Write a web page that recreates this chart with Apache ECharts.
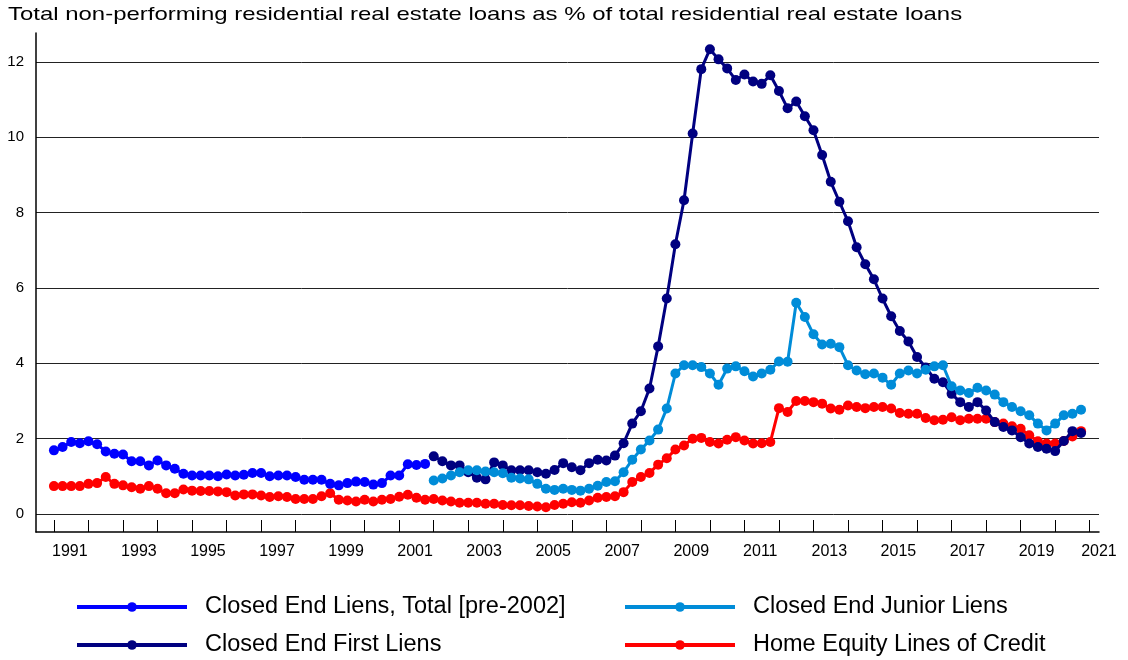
<!DOCTYPE html>
<html><head><meta charset="utf-8">
<script src="https://cdn.jsdelivr.net/npm/echarts@6/dist/echarts.min.js"></script>
<style>html,body{margin:0;padding:0;background:#fff}#c{width:1128px;height:660px}</style>
</head><body><div id="c"></div>
<script>
const titleText = 'Total non-performing residential real estate loans as % of total residential real estate loans';
const nameTotal = 'Closed End Liens, Total [pre-2002]';
const nameJunior = 'Closed End Junior Liens';
const nameFirst = 'Closed End First Liens';
const nameHeloc = 'Home Equity Lines of Credit';

// quarterly values, first quarter of start year onward
const totalStartYear = 1991;
const totalValues = [
  1.69, 1.78, 1.91, 1.88,
  1.93, 1.85, 1.66, 1.60,
  1.58, 1.40, 1.40, 1.29,
  1.42, 1.29, 1.20, 1.07,
  1.02, 1.02, 1.02, 1.00,
  1.05, 1.02, 1.04, 1.09,
  1.09, 1.00, 1.02, 1.02,
  0.98, 0.91, 0.91, 0.91,
  0.80, 0.76, 0.82, 0.86,
  0.85, 0.78, 0.82, 1.02,
  1.02, 1.32, 1.30, 1.33
];

const firstStartYear = 2002;
const firstValues = [
  1.53, 1.40, 1.29, 1.29,
  1.11, 0.96, 0.92, 1.37,
  1.29, 1.16, 1.16, 1.16,
  1.11, 1.07, 1.17, 1.35,
  1.24, 1.16, 1.35, 1.44,
  1.42, 1.55, 1.88, 2.40,
  2.73, 3.33, 4.45, 5.72,
  7.16, 8.33, 10.10, 11.81,
  12.34, 12.07, 11.83, 11.52,
  11.67, 11.48, 11.42, 11.65,
  11.23, 10.77, 10.95, 10.56,
  10.19, 9.53, 8.82, 8.29,
  7.77, 7.08, 6.63, 6.23,
  5.72, 5.25, 4.86, 4.58,
  4.17, 3.89, 3.59, 3.50,
  3.19, 2.97, 2.84, 2.97,
  2.75, 2.44, 2.31, 2.22,
  2.04, 1.87, 1.78, 1.73,
  1.67, 1.94, 2.20, 2.15
];

const juniorStartYear = 2002;
const juniorValues = [
  0.89, 0.94, 1.02, 1.11,
  1.16, 1.16, 1.13, 1.11,
  1.08, 0.96, 0.94, 0.92,
  0.80, 0.67, 0.64, 0.67,
  0.64, 0.62, 0.67, 0.75,
  0.85, 0.87, 1.11, 1.44,
  1.71, 1.95, 2.24, 2.80,
  3.73, 3.95, 3.95, 3.90,
  3.73, 3.43, 3.86, 3.92,
  3.79, 3.65, 3.73, 3.83,
  4.05, 4.04, 5.61, 5.23,
  4.77, 4.50, 4.52, 4.43,
  3.95, 3.81, 3.71, 3.73,
  3.62, 3.43, 3.73, 3.81,
  3.73, 3.83, 3.92, 3.95,
  3.39, 3.28, 3.21, 3.35,
  3.28, 3.17, 2.97, 2.84,
  2.73, 2.62, 2.40, 2.22,
  2.40, 2.62, 2.66, 2.77
];

const helocStartYear = 1991;
const helocValues = [
  0.74, 0.74, 0.74, 0.74,
  0.80, 0.82, 0.98, 0.80,
  0.76, 0.71, 0.67, 0.74,
  0.67, 0.55, 0.55, 0.65,
  0.62, 0.61, 0.61, 0.60,
  0.58, 0.49, 0.52, 0.52,
  0.49, 0.45, 0.47, 0.45,
  0.40, 0.40, 0.40, 0.47,
  0.55, 0.38, 0.36, 0.33,
  0.38, 0.33, 0.38, 0.40,
  0.46, 0.51, 0.43, 0.38,
  0.40, 0.36, 0.33, 0.30,
  0.30, 0.30, 0.27, 0.27,
  0.24, 0.23, 0.23, 0.21,
  0.20, 0.18, 0.24, 0.27,
  0.31, 0.30, 0.36, 0.43,
  0.45, 0.47, 0.58, 0.85,
  0.98, 1.09, 1.31, 1.48,
  1.71, 1.82, 2.00, 2.02,
  1.91, 1.87, 1.97, 2.04,
  1.95, 1.87, 1.88, 1.91,
  2.81, 2.71, 3.00, 3.00,
  2.97, 2.93, 2.80, 2.77,
  2.88, 2.84, 2.81, 2.84,
  2.84, 2.80, 2.68, 2.66,
  2.66, 2.55, 2.49, 2.50,
  2.57, 2.49, 2.53, 2.53,
  2.53, 2.44, 2.40, 2.33,
  2.26, 2.09, 1.93, 1.87,
  1.87, 1.94, 2.06, 2.20
];

const yearTicks = [1991,1992,1993,1994,1995,1996,1997,1998,1999,2000,2001,2002,2003,2004,2005,2006,2007,2008,2009,2010,2011,2012,2013,2014,2015,2016,2017,2018,2019,2020,2021];
const yearLabels = [1991,1993,1995,1997,1999,2001,2003,2005,2007,2009,2011,2013,2015,2017,2019,2021];
const yTickValues = [0,2,4,6,8,10,12];

const xMin = 1990.48, xMax = 2021.27;
const yMin = -0.478, yMax = 12.77;

function toQuarterly(startYear, values) {
  return values.map((v, i) => [startYear + i / 4, v]);
}

const FONT = 'Liberation Sans, Arial, sans-serif';
const chart = echarts.init(document.getElementById('c'), null, {renderer: 'canvas'});

function lineSeries(name, color, data, z) {
  return {
    name, type: 'line', data, z,
    symbol: 'circle', symbolSize: 10, showSymbol: true,
    lineStyle: {color, width: 3},
    itemStyle: {color},
    animation: false
  };
}

function legendItem(name, left, top) {
  return {
    data: [name], orient: 'horizontal', left, top,
    itemWidth: 110, itemHeight: 12,
    lineStyle: {width: 4},
    selectedMode: false,
    textStyle: {fontFamily: FONT, fontSize: 23.5, color: '#000', lineHeight: 23, padding: [0, 0, 0, 13]}
  };
}

chart.setOption({
  animation: false,
  backgroundColor: '#fff',
  graphic: [{
    type: 'text', x: 8, y: 15, scaleX: 1.26, scaleY: 1,
    style: {
      text: titleText, x: 0, y: 0,
      font: '19px "Liberation Sans", Arial, sans-serif',
      fill: '#000', textAlign: 'left', verticalAlign: 'middle', textVerticalAlign: 'middle'
    }
  }],
  grid: {left: 36, right: 29, top: 33, bottom: 128, containLabel: false},
  legend: [
    legendItem(nameTotal, 70, 590),
    legendItem(nameFirst, 70, 628),
    legendItem(nameJunior, 618, 590),
    legendItem(nameHeloc, 618, 628)
  ],
  xAxis: {
    type: 'value', min: xMin, max: xMax,
    axisLine: {show: true, onZero: false, lineStyle: {color: '#000', width: 1.5}},
    axisTick: {show: true, inside: true, length: 12, customValues: yearTicks, lineStyle: {color: '#000', width: 1}},
    axisLabel: {
      customValues: yearLabels.map(y => Math.min(y + 0.46, xMax - 0.001)),
      formatter: v => String(Math.floor(v)),
      fontFamily: FONT, fontSize: 16, color: '#000', margin: 12
    },
    splitLine: {show: false}
  },
  yAxis: {
    type: 'value', min: yMin, max: yMax,
    axisLine: {show: true, lineStyle: {color: '#000', width: 1.5}},
    axisTick: {show: false, customValues: yTickValues},
    axisLabel: {customValues: yTickValues, fontFamily: FONT, fontSize: 15, color: '#000', margin: 12},
    splitLine: {show: true, lineStyle: {color: '#222', width: 1}}
  },
  series: [
    lineSeries(nameHeloc, '#FF0000', toQuarterly(helocStartYear, helocValues), 2),
    lineSeries(nameTotal, '#0000FF', toQuarterly(totalStartYear, totalValues), 3),
    lineSeries(nameFirst, '#000080', toQuarterly(firstStartYear, firstValues), 4),
    lineSeries(nameJunior, '#008CD8', toQuarterly(juniorStartYear, juniorValues), 5)
  ]
});
</script></body></html>
